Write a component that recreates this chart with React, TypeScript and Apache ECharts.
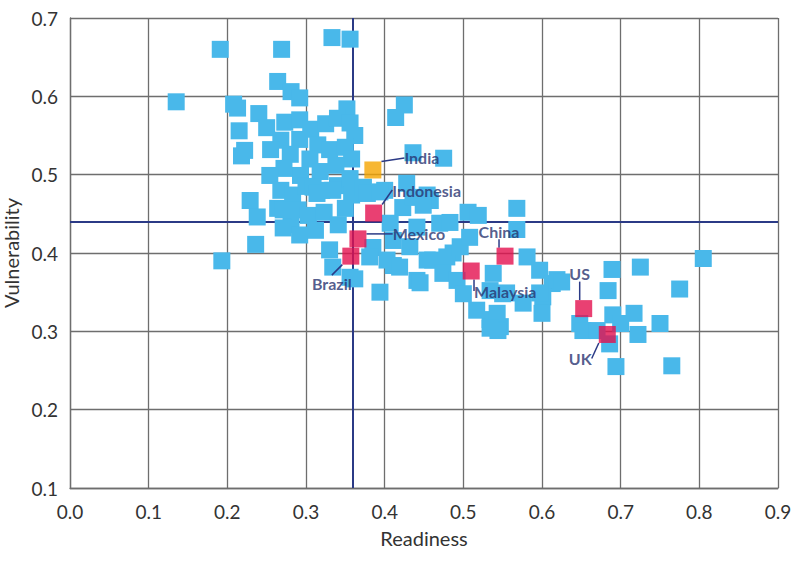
import { useRef, useEffect } from "react"
import * as echarts from "echarts"

// blue squares: [readiness, vulnerability]
const otherCountries: [number, number][] = [
  [0.191, 0.66], [0.269, 0.66], [0.333, 0.675], [0.356, 0.673], [0.135, 0.593], [0.264, 0.619],
  [0.208, 0.59], [0.213, 0.585], [0.281, 0.606], [0.292, 0.598], [0.425, 0.589], [0.414, 0.573], [0.352, 0.584],
  [0.215, 0.556], [0.222, 0.531], [0.218, 0.524], [0.24, 0.578], [0.25, 0.56], [0.273, 0.567], [0.292, 0.57],
  [0.306, 0.558], [0.325, 0.565], [0.34, 0.572], [0.356, 0.566], [0.362, 0.55], [0.315, 0.538], [0.292, 0.545],
  [0.268, 0.544], [0.255, 0.532], [0.28, 0.526], [0.305, 0.52], [0.33, 0.532], [0.35, 0.535], [0.358, 0.52],
  [0.338, 0.512], [0.318, 0.504], [0.293, 0.499], [0.272, 0.508], [0.254, 0.499], [0.268, 0.48], [0.283, 0.474],
  [0.3, 0.485], [0.32, 0.48], [0.34, 0.486], [0.356, 0.495], [0.358, 0.474], [0.373, 0.484], [0.229, 0.467],
  [0.238, 0.446], [0.264, 0.457], [0.29, 0.455], [0.281, 0.436], [0.303, 0.448], [0.312, 0.429], [0.292, 0.423],
  [0.323, 0.452], [0.341, 0.436], [0.35, 0.457], [0.193, 0.39], [0.236, 0.411], [0.271, 0.432], [0.33, 0.404],
  [0.334, 0.382], [0.356, 0.369], [0.309, 0.484], [0.271, 0.455], [0.314, 0.476], [0.334, 0.48], [0.362, 0.367],
  [0.436, 0.528], [0.475, 0.521], [0.428, 0.489], [0.454, 0.474], [0.4, 0.48], [0.378, 0.476], [0.394, 0.478],
  [0.423, 0.458], [0.436, 0.471], [0.458, 0.467], [0.411, 0.416], [0.441, 0.433], [0.47, 0.438], [0.487, 0.4],
  [0.461, 0.391], [0.441, 0.365], [0.411, 0.384], [0.394, 0.35], [0.385, 0.407], [0.407, 0.438], [0.449, 0.461],
  [0.506, 0.452], [0.519, 0.448], [0.568, 0.457], [0.568, 0.43], [0.483, 0.439],
  [0.581, 0.395], [0.597, 0.378], [0.613, 0.361], [0.601, 0.344], [0.6, 0.323], [0.576, 0.336], [0.547, 0.306],
  [0.534, 0.315], [0.517, 0.327], [0.445, 0.362], [0.454, 0.391], [0.479, 0.395], [0.496, 0.408], [0.508, 0.42],
  [0.474, 0.374], [0.492, 0.365], [0.5, 0.348], [0.538, 0.374], [0.534, 0.352], [0.55, 0.348], [0.403, 0.391],
  [0.419, 0.382], [0.432, 0.408], [0.381, 0.395], [0.619, 0.366], [0.597, 0.349], [0.555, 0.349], [0.543, 0.323],
  [0.544, 0.301], [0.534, 0.304],
  [0.805, 0.393], [0.725, 0.382], [0.689, 0.379], [0.684, 0.352], [0.775, 0.354], [0.625, 0.363], [0.69, 0.321],
  [0.717, 0.323], [0.75, 0.31], [0.722, 0.296], [0.648, 0.31], [0.652, 0.301], [0.67, 0.301], [0.7, 0.31],
  [0.686, 0.284], [0.694, 0.255], [0.765, 0.256],
]

const countries = ["India", "Indonesia", "Mexico", "Brazil", "China", "Malaysia", "US", "UK"]
const readiness = [0.385, 0.386, 0.366, 0.357, 0.553, 0.51, 0.653, 0.683]
const vulnerability = [0.506, 0.451, 0.418, 0.396, 0.396, 0.377, 0.329, 0.296]

const avgReadiness = 0.365
const avgVulnerability = 0.436

// label offsets from the square centre, in pixels
const labelOffsets: Record<string, [number, number]> = {
  India: [49, -12],
  Indonesia: [53, -23],
  Mexico: [61, -5],
  Brazil: [-19, 27],
  China: [-6, -25],
  Malaysia: [34, 20],
  US: [-4, -35],
  UK: [-27, 24],
}

const BLUE = "#49b8ea"
const RED = "#e3104f"
const ORANGE = "#f5a500"
const NAVY = "#2b3a86"
const LABEL = "#27336f"
const GRID = "#6e6e6e"

export default function App() {
  const chartRef = useRef<HTMLDivElement>(null)

  useEffect(() => {
    document.body.style.margin = "0"
    if (!chartRef.current) return
    const chart = echarts.init(chartRef.current, undefined, { renderer: "svg" })

    const highlighted = countries.map((name, i) => ({
      name,
      value: [readiness[i], vulnerability[i]],
      itemStyle: { color: name === "India" ? ORANGE : RED },
    }))

    chart.setOption({
      animation: false,
      textStyle: { fontFamily: "Lato" },
      grid: { left: 70, right: 22, top: 18, bottom: 93, outerBoundsMode: "none" },
      xAxis: {
        type: "value",
        min: 0,
        max: 0.9,
        interval: 0.1,
        name: "Readiness",
        nameLocation: "middle",
        nameGap: 40,
        nameTextStyle: { fontSize: 20, color: "#333", fontFamily: "Lato" },
        axisLine: { show: true, lineStyle: { color: GRID, width: 1.3 } },
        axisTick: { show: false },
        axisLabel: {
          fontSize: 19,
          color: "#333",
          margin: 14,
          formatter: (v: number) => v.toFixed(1),
        },
        splitLine: { show: true, lineStyle: { color: GRID, width: 1.3 } },
      },
      yAxis: {
        type: "value",
        min: 0.1,
        max: 0.7,
        interval: 0.1,
        name: "Vulnerability",
        nameLocation: "middle",
        nameGap: 45,
        nameTextStyle: { fontSize: 20, color: "#333", fontFamily: "Lato" },
        axisLine: { show: true, lineStyle: { color: GRID, width: 1.3 } },
        axisTick: { show: false },
        axisLabel: {
          fontSize: 19,
          color: "#333",
          margin: 12,
          formatter: (v: number) => v.toFixed(1),
        },
        splitLine: { show: true, lineStyle: { color: GRID, width: 1.3 } },
      },
      series: [
        {
          type: "scatter",
          symbol: "rect",
          symbolSize: 17,
          z: 2,
          itemStyle: { color: BLUE, opacity: 1 },
          data: otherCountries,
          silent: true,
          markLine: {
            silent: true,
            symbol: "none",
            z: 1,
            label: { show: false },
            lineStyle: { color: NAVY, width: 2, type: "solid" },
            data: [{ xAxis: avgReadiness }, { yAxis: avgVulnerability }],
          },
        },
        {
          type: "scatter",
          symbol: "rect",
          symbolSize: 17,
          z: 3,
          data: highlighted,
          silent: true,
          label: {
            show: true,
            position: "inside",
            formatter: "{b}",
            fontSize: 16,
            fontWeight: "bold",
            color: LABEL,
            textBorderWidth: 0,
            textBorderColor: "transparent",
            fontFamily: "Lato",
            align: "center",
            verticalAlign: "middle",
          },
          labelLayout: (params: any) => {
            const name = countries[params.dataIndex]
            const off = labelOffsets[name]
            return { dx: off[0], dy: off[1] }
          },
          labelLine: { show: true, lineStyle: { color: NAVY, width: 1.5 } },
        },
      ],
    })

    return () => {
      chart.dispose()
    }
  }, [])

  return <div ref={chartRef} style={{ width: 800, height: 581 }} />
}
